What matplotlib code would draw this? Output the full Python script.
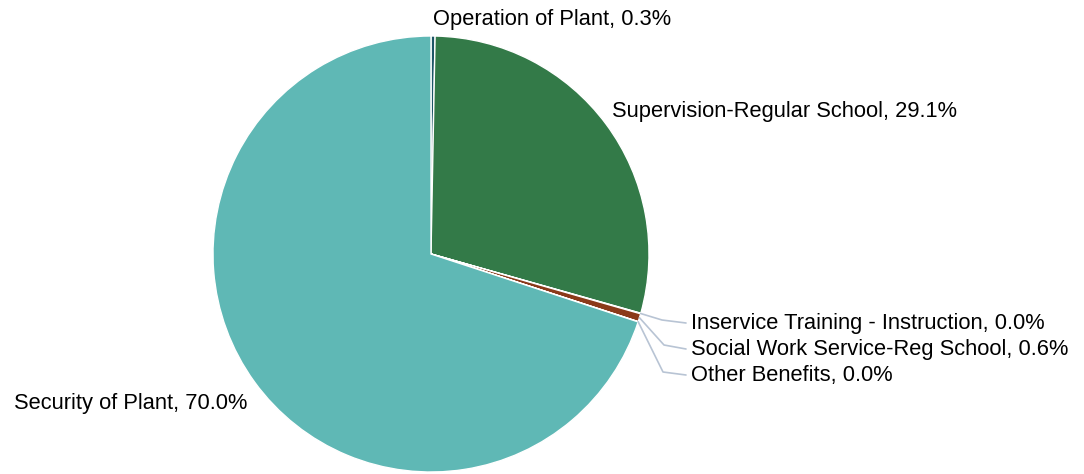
import matplotlib
matplotlib.use("Agg")
import matplotlib.pyplot as plt
import numpy as np

labels = ["Operation of Plant", "Supervision-Regular School", "Inservice Training - Instruction",
          "Social Work Service-Reg School", "Other Benefits", "Security of Plant"]
values = [0.3, 29.1, 0.04, 0.6, 0.02, 70.0]
colors = ["#1d5566", "#337a48", "#f3c98b", "#8b3a1a", "#e8a0a0", "#5fb8b5"]

plt.rcParams['font.family'] = ['Liberation Sans', 'DejaVu Sans']

W, H = 1084, 474
fig = plt.figure(figsize=(W / 100, H / 100), dpi=100)
ax = fig.add_axes([0, 0, 1, 1])
ax.set_xlim(0, W)
ax.set_ylim(0, H)
ax.set_aspect('equal')
ax.axis('off')

cx, cy, r = 431, H - 254, 218
wedges, _ = ax.pie(values, colors=colors, startangle=90, counterclock=False,
                   center=(cx, cy), radius=r, frame=True,
                   wedgeprops=dict(edgecolor='white', linewidth=1))
ax.set_xlim(0, W)
ax.set_ylim(0, H)
ax.axis('off')

fs = 15.75
txt = [f"{l}, {v:.1f}%" for l, v in zip(labels, values)]

# plain labels
ax.text(433, H - 19, txt[0], fontsize=fs, ha='left', va='center')
ax.text(612, H - 111, txt[1], fontsize=fs, ha='left', va='center')
ax.text(247, H - 404, txt[5], fontsize=fs, ha='right', va='center')

# leader labels for tiny slices
lab_y = [H - 323, H - 349, H - 375]
elbow = [(662, H - 320), (664, H - 345), (663, H - 372)]
for k, idx in enumerate([2, 3, 4]):
    w = wedges[idx]
    ang = np.deg2rad((w.theta1 + w.theta2) / 2)
    sx, sy = cx + r * np.cos(ang), cy + r * np.sin(ang)
    ex, ey = elbow[k]
    ax.plot([sx, ex, 686], [sy, ey, lab_y[k]], color='#b8c4d4', lw=1.2, solid_capstyle='round')
    ax.text(691, lab_y[k] - 1, txt[idx], fontsize=fs, ha='left', va='center')

fig.savefig("out.png", dpi=100)
